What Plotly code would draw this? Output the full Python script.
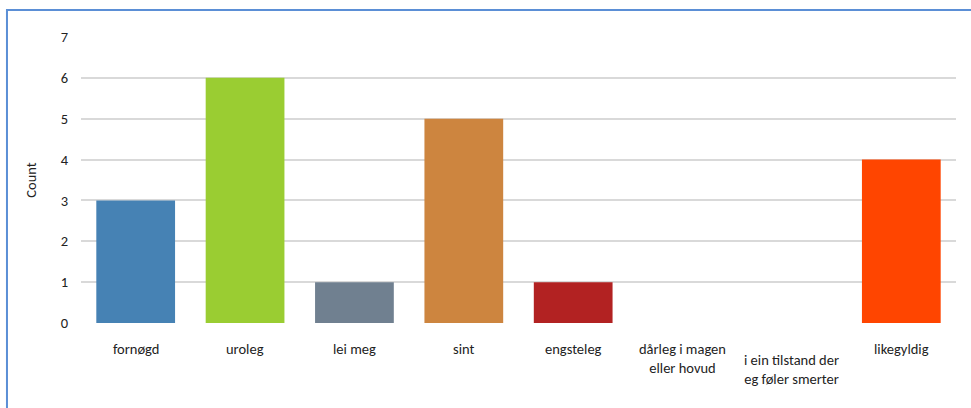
import plotly.graph_objects as go

categories = ["fornøgd", "uroleg", "lei meg", "sint", "engsteleg",
              "dårleg i magen<br>eller hovud", "i ein tilstand der<br>eg føler smerter",
              "likegyldig"]
counts = [3, 6, 1, 5, 1, 0, 0, 4]
bar_colors = ["#4682B4", "#9ACD32", "#708090", "#CD853F", "#B22222",
              "#FFFFFF", "#FFFFFF", "#FF4500"]
label_shift = [0, 0, 0, 0, 0, 0, -11, 0]
y_ticks = [0, 1, 2, 3, 4, 5, 6, 7]

FONT = "Carlito, Lato, 'Open Sans', sans-serif"
FS = 14.5

fig = go.Figure(go.Bar(
    x=list(range(len(categories))),
    y=counts,
    marker=dict(color=bar_colors, line=dict(width=0)),
    width=0.72,
))

for i, (cat, sh) in enumerate(zip(categories, label_shift)):
    fig.add_annotation(
        x=i, y=0, xref="x", yref="y", text=cat, showarrow=False,
        yanchor="top", yshift=-15 + sh,
        font=dict(family=FONT, size=FS, color="#222222"),
    )

fig.update_layout(
    width=971, height=408,
    margin=dict(l=81, r=15, t=37, b=85),
    paper_bgcolor="white", plot_bgcolor="white",
    showlegend=False,
    font=dict(family=FONT, size=FS, color="#222222"),
    xaxis=dict(range=[-0.5, len(categories) - 0.5], showticklabels=False,
               showgrid=False, zeroline=False, showline=False, ticks=""),
    yaxis=dict(range=[0, 7], tickvals=y_ticks, showgrid=True,
               gridcolor="#D9D9D9", gridwidth=1.5, zeroline=False,
               showline=False, ticks="", ticklabelstandoff=12,
               title=dict(text="Count", standoff=20,
                          font=dict(family=FONT, size=FS, color="#222222"))),
    shapes=[dict(type="rect", xref="paper", yref="paper",
                 x0=-0.0846, x1=1.05, y0=-0.35, y1=1.0944,
                 line=dict(color="#5B8FD6", width=2), layer="below")],
)

fig.write_html("out.html")
